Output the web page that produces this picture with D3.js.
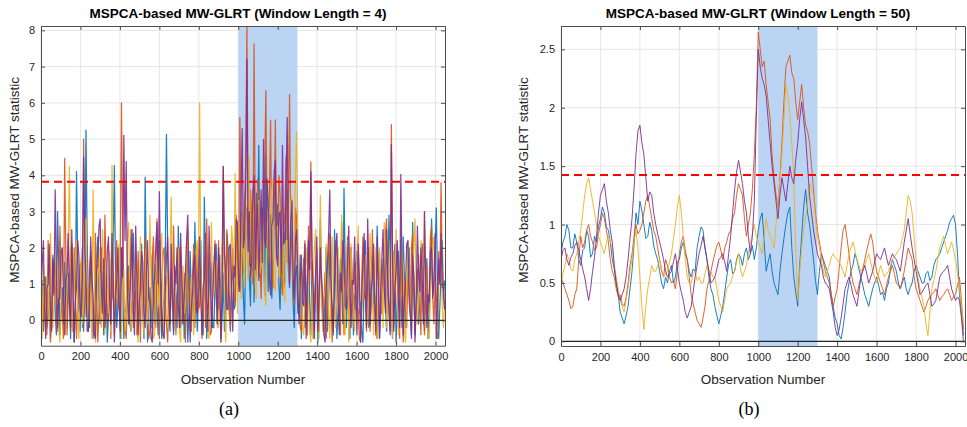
<!DOCTYPE html>
<html><head><meta charset="utf-8">
<script src="https://cdn.jsdelivr.net/npm/d3@7"></script>
<style>
body{margin:0;background:#fff;}
svg{display:block;font-family:"Liberation Sans",Arial,sans-serif;}
</style>
</head><body>
<svg id="c" width="967" height="427"></svg>
<script>
// ---------------- DATA ----------------
const seriesNames = ["Run 1", "Run 2", "Run 3", "Run 4"];
const seriesColors = ["#0072BD", "#D95319", "#EDB120", "#7E2F8E"];
const xTickValues = [0, 200, 400, 600, 800, 1000, 1200, 1400, 1600, 1800, 2000];
const yTicksA = [0, 1, 2, 3, 4, 5, 6, 7, 8];
const yTicksB = [0, 0.5, 1, 1.5, 2, 2.5];
const faultStart = 1000, faultEnd = 1300;
const thresholdA = 3.82, thresholdB = 1.425;
const titleA = "MSPCA-based MW-GLRT (Window Length = 4)";
const titleB = "MSPCA-based MW-GLRT (Window Length = 50)";
const xLabel = "Observation Number";
const yLabel = "MSPCA-based MW-GLRT statistic";
const stepA = 6;   // observation spacing of the sampled values, panel (a)
const stepB = 10;  // observation spacing of the sampled values, panel (b)

// Panel (a): window length 4
const a_blue = [
0.4,1.1,-0.3,0.5,1.2,-0.2,0.1,0.8,-0.5,0.3,1.8,0.9,0.2,-0.4,3.0,1.4,-0.4,0.2,0.9,-0.1,
1.6,0.6,-0.2,1.3,0.6,-0.5,2.1,1.0,-0.6,0.4,4.1,1.7,0.3,-0.3,1.1,2.0,-0.3,0.7,5.25,2.2,
0.5,-0.2,1.9,0.8,-0.5,0.3,0.8,1.6,2.3,0.6,-0.1,0.9,1.3,-0.4,0.0,1.2,-0.6,0.1,1.7,0.5,
0.6,2.0,4.27,1.1,-0.2,0.4,1.0,-0.5,2.0,0.9,-0.5,0.2,0.4,1.4,1.5,-0.1,-0.3,0.6,2.4,1.0,
0.7,-0.3,-0.4,0.8,1.2,2.1,0.2,-0.5,3.95,1.3,-0.6,0.5,0.9,-0.2,1.8,0.7,-0.1,1.5,0.3,-0.4,
2.2,0.9,-0.5,0.3,0.6,1.7,5.13,2.0,0.1,-0.3,1.4,0.6,-0.4,1.1,0.8,-0.2,2.6,1.2,-0.2,0.4,
1.1,-0.5,0.4,1.6,-0.6,0.2,1.9,0.7,0.5,-0.1,2.7,1.1,-0.3,0.6,1.0,2.2,0.2,-0.4,3.4,1.3,
-0.5,0.4,0.7,1.5,1.6,-0.2,-0.2,0.9,2.1,0.5,0.3,1.8,-0.6,0.1,1.3,-0.3,0.6,2.4,2.0,0.8,
-0.3,1.1,1.5,0.3,0.4,2.0,2.5,1.0,0.9,3.0,1.8,0.6,-0.1,2.3,3.1,1.5,1.2,0.4,2.6,3.3,
0.5,1.8,3.5,2.4,4.83,1.2,1.4,3.1,2.2,0.7,4.6,2.5,0.8,1.9,2.9,0.6,1.6,3.4,3.8,1.7,
3.2,1.0,0.3,2.1,2.4,0.9,1.1,3.0,3.6,1.4,0.9,2.6,2.0,0.5,-0.2,1.3,1.5,0.2,0.6,1.8,
-0.5,0.7,1.7,-0.2,0.2,1.2,2.3,0.4,-0.4,1.6,0.8,-0.5,1.4,0.6,-0.6,0.9,2.8,1.1,0.1,-0.3,
1.0,2.0,-0.3,0.5,1.9,0.8,0.4,-0.4,2.5,1.2,-0.5,0.3,0.7,1.7,1.3,-0.1,3.64,1.5,-0.2,0.6,
0.9,-0.5,2.0,1.0,-0.4,0.7,0.3,1.9,1.6,0.2,0.5,-0.3,-0.6,1.1,2.2,0.6,1.1,-0.2,-0.1,1.4,
1.8,0.5,0.2,-0.4,2.6,1.3,-0.5,0.2,0.8,1.7,1.5,0.4,-0.3,1.0,2.9,1.6,0.4,-0.5,1.2,2.1,
-0.6,0.3,1.9,0.9,0.6,-0.2,2.3,1.2,-0.2,0.5,1.0,2.0,0.3,-0.4,2.7,1.0,-0.4,0.6,1.4,-0.1,
0.5,1.6,2.1,0.4,-0.3,0.9,1.7,-0.5,0.2,1.3,2.8,0.7,0.9,2.0,3.1,1.0,-0.5,0.4,1.3,2.2,
0.6,1.1];
const a_orange = [
1.0,0.3,-0.2,1.2,0.5,-0.4,2.2,0.9,-0.6,0.2,0.8,1.6,1.4,-0.1,-0.3,0.7,2.6,1.1,0.2,-0.5,
4.47,1.8,-0.4,0.6,1.1,2.0,0.3,-0.3,2.0,0.8,-0.5,0.4,0.7,1.5,1.6,-0.2,5.0,2.1,0.1,0.9,
-0.3,1.4,1.8,0.5,0.4,-0.4,2.4,1.0,-0.6,0.3,1.2,2.0,0.6,-0.2,2.9,1.3,-0.1,0.5,0.9,-0.5,
1.5,0.6,-0.4,1.1,2.2,0.4,0.3,1.9,6.0,2.4,0.8,-0.3,-0.5,0.7,1.3,0.2,2.5,1.2,-0.2,0.8,
0.6,-0.4,1.9,0.7,-0.6,1.4,0.9,0.1,2.3,1.0,0.1,-0.5,-0.3,0.6,1.7,2.3,0.4,-0.2,2.8,1.1,
-0.5,0.5,1.0,1.9,2.0,0.4,-0.1,-0.6,0.5,1.2,1.4,0.3,2.6,1.0,-0.4,0.6,0.7,2.0,1.8,-0.1,
0.2,1.3,-0.6,0.5,2.4,0.8,0.9,-0.3,1.2,2.1,-0.2,0.7,2.0,0.3,0.4,1.5,-0.5,0.2,1.6,-0.2,
2.8,1.0,0.3,-0.4,-0.3,0.9,1.1,2.2,0.6,-0.1,2.2,0.8,-0.6,1.6,4.25,1.2,0.8,2.5,1.4,0.2,
-0.2,1.1,2.0,0.6,0.5,2.9,1.7,0.8,5.6,3.0,2.4,1.3,3.3,4.4,8.1,2.6,1.5,3.6,2.9,1.0,
7.63,2.8,1.2,3.9,3.4,1.5,0.6,2.5,2.7,4.2,6.34,2.3,1.9,3.5,5.52,1.4,0.9,2.9,5.53,2.0,
2.2,4.0,3.5,1.1,0.7,2.6,2.8,4.5,1.6,3.2,6.23,2.4,2.1,0.9,0.4,3.1,2.8,1.2,0.8,-0.2,
-0.3,0.9,1.5,2.2,0.2,-0.4,2.6,1.0,4.37,1.7,-0.5,0.4,1.0,2.0,0.6,-0.3,2.1,1.3,-0.2,0.5,
1.3,-0.5,0.4,1.8,2.4,0.7,-0.6,0.2,0.9,2.2,1.8,0.5,0.1,-0.4,2.7,1.1,-0.4,0.6,1.2,2.3,
0.5,-0.2,2.0,0.9,-0.1,1.5,1.6,0.3,0.3,-0.5,-0.6,1.2,2.3,0.6,0.8,-0.3,1.4,2.0,-0.3,0.4,
2.5,1.1,0.6,-0.4,-0.5,0.8,1.9,0.2,0.2,1.4,1.1,2.4,2.8,0.9,0.4,-0.3,5.4,1.6,-0.2,0.7,
1.3,2.1,0.7,-0.5,2.2,0.6,-0.6,1.1,0.9,-0.2,1.7,0.5,0.1,2.0,2.4,0.8,-0.3,0.3,1.0,1.8,
0.5,-0.4,2.1,0.9,-0.4,1.3,1.5,0.2,0.8,2.3,2.6,0.6,-0.1,1.2,0.6,-0.5,1.9,1.0,3.8,1.5,
0.7,0.3];
const a_yellow = [
0.3,-0.5,1.5,0.6,-0.4,1.2,0.8,-0.1,2.4,0.9,-0.2,0.5,1.1,1.9,0.5,-0.3,-0.6,0.7,2.0,1.0,
0.2,-0.4,1.3,2.2,4.25,1.1,-0.3,0.4,0.9,1.7,2.2,0.3,-0.5,0.8,1.7,-0.1,0.4,1.4,2.8,0.6,
-0.1,1.2,0.7,-0.5,3.6,1.5,-0.6,0.3,1.2,2.0,0.3,-0.2,2.5,0.9,-0.4,1.6,1.0,0.2,1.9,-0.3,
4.28,1.3,-0.2,0.7,0.6,1.8,2.1,0.4,-0.5,1.0,1.4,-0.3,0.2,2.3,2.7,0.8,-0.3,0.5,0.8,1.6,
1.6,-0.2,-0.6,0.9,2.3,1.2,0.5,-0.4,1.1,2.0,-0.1,0.6,2.9,1.1,0.3,-0.5,-0.4,1.3,1.8,0.4,
0.7,2.1,2.4,0.5,-0.5,1.0,1.2,-0.2,0.1,1.6,3.4,1.2,-0.2,0.6,0.9,2.0,2.0,-0.3,-0.6,0.8,
1.5,0.2,0.4,2.1,2.6,0.7,-0.3,1.2,1.0,-0.4,0.6,1.9,2.2,0.9,6.0,1.4,-0.1,0.5,1.3,2.4,
0.5,-0.4,-0.5,1.1,2.7,0.6,0.8,1.7,1.6,-0.2,-0.2,0.9,0.3,2.0,2.4,0.7,-0.6,0.4,1.1,1.8,
0.7,2.6,2.1,0.9,4.05,1.5,0.2,2.7,1.8,0.6,3.0,1.9,0.9,3.2,2.3,1.1,4.5,2.0,1.2,3.4,
2.8,0.9,0.6,2.2,3.3,1.3,1.5,2.9,2.0,0.7,0.4,2.4,3.1,1.6,1.7,3.6,3.9,1.0,0.8,2.5,
2.6,1.2,1.3,3.1,3.0,0.8,0.5,2.2,2.2,1.5,1.0,3.3,3.4,1.1,1.9,4.1,5.2,2.4,0.3,1.0,
1.4,-0.2,-0.4,0.9,2.0,1.5,0.6,-0.3,-0.6,0.7,1.2,2.0,2.5,0.4,0.1,-0.5,3.45,1.2,-0.3,0.6,
0.8,2.1,1.7,0.3,-0.5,1.0,2.3,0.6,0.4,-0.2,1.1,2.0,-0.2,0.5,2.9,1.3,0.6,-0.4,1.4,2.2,
-0.6,0.4,2.1,1.0,0.3,-0.3,1.0,1.8,2.6,0.7,-0.3,0.2,0.7,1.5,1.8,-0.1,-0.1,0.9,2.4,1.2,
0.5,-0.4,1.3,2.0,-0.5,0.6,2.0,1.1,0.9,-0.2,2.7,1.4,-0.2,0.5,1.2,2.2,0.4,-0.5,1.9,0.8,
2.5,1.0,-0.4,0.3,0.8,1.9,1.5,-0.3,-0.6,0.7,2.2,1.3,0.6,-0.1,1.1,2.0,2.8,0.9,-0.1,0.5,
0.9,2.2,1.6,0.2,3.0,1.2,0.2,-0.4,-0.5,0.8,1.4,2.1,2.3,0.6,0.5,-0.3,1.0,1.7,2.1,0.4,
-0.2,0.5];
const a_purple = [
0.8,1.5,2.2,0.4,-0.5,0.9,1.0,2.1,0.3,-0.3,1.7,0.7,3.6,1.4,-0.2,0.6,0.6,1.9,2.0,0.8,
-0.4,1.1,1.3,2.4,0.5,-0.2,2.5,1.0,-0.6,0.5,0.9,2.2,1.8,0.3,0.1,1.5,4.5,2.0,1.2,-0.3,
-0.3,0.8,2.3,1.2,0.7,-0.4,-0.5,1.4,1.5,2.6,2.8,0.9,0.2,1.7,-0.2,0.5,1.9,2.3,0.6,-0.1,
2.4,1.3,-0.6,0.6,1.1,2.0,0.4,-0.3,2.0,1.2,5.1,2.2,4.38,1.0,-0.1,0.7,1.4,2.5,0.3,-0.4,
2.6,1.1,-0.4,0.5,0.8,1.9,1.6,0.2,-0.2,1.3,2.2,0.6,0.5,-0.5,-0.6,0.9,1.2,2.1,2.7,1.0,
3.55,1.4,0.1,-0.4,-0.5,0.8,1.7,2.3,0.6,-0.1,2.1,0.9,-0.3,1.5,1.0,2.0,0.4,-0.2,2.4,1.1,
-0.1,0.7,1.3,2.2,2.9,0.9,-0.6,0.4,0.7,1.6,1.8,0.3,0.2,1.2,2.3,0.6,-0.4,0.9,1.1,2.4,
0.5,-0.3,2.6,1.2,-0.2,0.6,1.5,2.1,0.9,-0.1,2.0,1.0,-0.5,0.7,4.25,1.8,1.4,0.3,0.3,2.0,
2.1,0.9,-0.3,1.5,1.2,2.8,2.7,1.0,0.8,3.4,5.29,2.0,2.3,3.8,7.2,1.9,3.0,1.2,1.6,3.5,
4.0,1.4,2.5,3.2,1.1,2.4,3.6,1.6,4.99,2.2,2.0,3.9,3.2,1.1,0.7,2.6,2.8,4.1,4.4,1.8,
1.5,2.9,3.0,1.3,4.83,2.1,2.2,3.7,5.6,1.9,1.0,2.7,3.3,1.2,0.6,2.2,2.5,0.8,-0.1,1.0,
1.8,0.5,0.4,2.1,-0.5,0.9,2.2,1.4,4.1,1.6,0.9,-0.3,1.3,2.3,-0.3,0.6,2.0,1.1,0.6,-0.4,
-0.6,0.9,1.5,2.4,3.6,1.2,0.2,-0.3,1.1,2.0,2.4,0.7,-0.4,1.3,0.8,2.2,1.9,0.4,0.3,1.6,
2.6,0.9,-0.2,1.1,1.0,2.3,0.5,-0.4,2.1,1.2,-0.6,0.6,1.6,2.4,0.7,-0.2,2.8,1.3,-0.1,0.8,
1.2,2.1,0.4,-0.3,2.3,1.0,-0.5,0.7,1.7,2.5,0.9,0.2,2.5,1.2,0.2,-0.4,4.85,1.9,-0.3,0.9,
1.4,2.2,0.6,-0.2,4.03,1.5,-0.4,0.6,1.0,2.1,2.2,0.8,0.3,-0.5,1.8,1.2,-0.6,0.5,2.6,1.4,
0.8,2.0,1.3,-0.1,3.0,1.1,-0.2,0.7,0.5,1.9,2.0,0.6,1.1,2.4,-0.5,0.4,1.7,1.0,2.4,0.9,
0.9,0.3];

// Panel (b): window length 50
const b_blue = [
0.75,0.85,0.9,1.0,0.95,0.8,0.8,0.92,0.85,0.7,0.65,0.78,0.8,0.95,0.9,0.72,0.75,0.9,0.85,0.98,
1.05,1.15,1.1,0.98,0.95,0.85,0.7,0.62,0.5,0.4,0.25,0.2,0.15,0.22,0.3,0.45,0.6,0.82,1.1,1.0,
1.2,1.12,1.0,0.88,0.9,1.02,0.95,0.82,0.75,0.7,0.6,0.5,0.45,0.55,0.5,0.6,0.65,0.5,0.55,0.68,
0.7,0.8,0.85,0.74,0.7,0.6,0.55,0.62,0.6,0.8,0.9,0.98,0.95,0.8,0.7,0.55,0.45,0.4,0.3,0.22,
0.15,0.22,0.3,0.42,0.55,0.66,0.7,0.58,0.6,0.7,0.75,0.72,0.65,0.75,0.8,0.7,0.75,0.82,0.7,0.8,
0.95,1.05,1.1,0.85,0.6,0.68,0.75,0.6,0.5,0.45,0.4,0.6,0.75,0.88,1.0,1.1,1.15,0.8,0.55,0.42,
0.3,0.65,0.9,1.15,1.3,1.1,1.0,0.85,0.7,0.52,0.4,0.6,0.75,0.7,0.65,0.6,0.55,0.4,0.3,0.2,
0.15,0.05,0.02,0.12,0.25,0.4,0.5,0.6,0.65,0.75,0.7,0.62,0.55,0.48,0.4,0.35,0.3,0.38,0.45,0.5,
0.55,0.48,0.4,0.42,0.35,0.45,0.5,0.62,0.7,0.65,0.6,0.5,0.45,0.5,0.55,0.45,0.4,0.46,0.5,0.6,
0.65,0.6,0.55,0.5,0.5,0.58,0.6,0.52,0.55,0.65,0.7,0.72,0.75,0.8,0.85,0.9,0.95,1.02,1.05,1.08,
1.0,0.75,0.4,0.25,0.05];
const b_orange = [
0.55,0.5,0.45,0.4,0.35,0.28,0.3,0.4,0.45,0.7,0.9,0.8,0.85,0.95,1.0,0.9,0.85,0.78,0.8,0.92,
1.0,1.1,1.05,0.95,0.85,0.7,0.6,0.55,0.45,0.38,0.4,0.32,0.3,0.38,0.5,0.65,0.75,0.9,1.0,0.92,
0.95,1.0,1.1,1.2,1.25,1.15,1.05,0.95,0.9,0.8,0.7,0.6,0.55,0.7,0.65,0.55,0.5,0.52,0.45,0.6,
0.75,0.85,0.9,0.78,0.7,0.55,0.4,0.32,0.25,0.18,0.15,0.12,0.2,0.3,0.45,0.52,0.6,0.68,0.75,0.82,
0.85,0.78,0.7,0.8,0.85,0.92,0.95,1.05,1.1,1.25,1.35,1.3,1.25,1.05,0.9,1.0,1.1,1.3,1.6,2.0,
2.65,2.5,2.35,2.4,2.2,2.05,1.9,1.6,1.4,1.25,1.15,1.4,1.7,2.05,2.35,2.4,2.45,2.3,2.25,2.05,
1.9,2.05,2.2,2.0,1.85,1.8,1.7,1.5,1.3,1.1,0.95,0.85,0.75,0.68,0.6,0.55,0.5,0.4,0.3,0.38,
0.45,0.62,0.8,0.95,1.0,0.88,0.75,0.6,0.5,0.45,0.4,0.48,0.55,0.62,0.7,0.78,0.85,0.92,0.85,0.7,
0.6,0.55,0.5,0.45,0.4,0.48,0.55,0.6,0.65,0.58,0.5,0.48,0.45,0.52,0.6,0.7,0.8,0.75,0.7,0.55,
0.45,0.4,0.35,0.3,0.25,0.3,0.35,0.38,0.4,0.42,0.45,0.4,0.35,0.38,0.4,0.43,0.45,0.4,0.35,0.38,
0.4,0.48,0.55,0.35,0.1];
const b_yellow = [
0.5,0.58,0.65,0.75,0.7,0.62,0.6,0.7,0.75,0.85,0.95,1.1,1.25,1.35,1.4,1.3,1.2,1.1,1.0,0.9,
0.85,0.8,0.75,0.85,0.9,0.85,0.8,0.65,0.55,0.45,0.35,0.3,0.25,0.35,0.45,0.6,0.7,0.85,0.95,0.8,
0.55,0.3,0.1,0.3,0.45,0.55,0.65,0.6,0.6,0.65,0.7,0.62,0.55,0.58,0.6,0.68,0.75,0.88,1.0,1.15,
1.25,1.1,0.9,0.7,0.55,0.5,0.5,0.58,0.6,0.52,0.55,0.5,0.5,0.58,0.65,0.6,0.6,0.55,0.55,0.45,
0.35,0.3,0.25,0.35,0.45,0.48,0.5,0.56,0.6,0.68,0.75,0.62,0.55,0.6,0.65,0.75,0.85,0.92,1.0,0.9,
0.85,0.8,0.75,0.9,1.05,0.95,0.9,0.85,0.8,1.0,1.2,1.4,1.6,1.9,2.2,2.1,1.95,1.7,1.4,0.8,
0.35,0.6,0.8,0.95,1.05,1.2,1.35,1.3,1.25,1.05,0.9,0.8,0.7,0.6,0.55,0.6,0.65,0.72,0.75,0.72,
0.7,0.68,0.65,0.6,0.55,0.65,0.75,0.8,0.85,0.78,0.7,0.65,0.6,0.62,0.65,0.7,0.75,0.68,0.6,0.55,
0.5,0.58,0.65,0.6,0.55,0.58,0.6,0.65,0.7,0.72,0.75,0.78,0.8,0.88,0.95,1.1,1.25,1.2,1.1,0.9,
0.7,0.55,0.45,0.38,0.3,0.15,0.05,0.25,0.45,0.52,0.6,0.7,0.8,0.85,0.9,0.82,0.75,0.8,0.85,0.78,
0.7,0.58,0.45,0.3,0.15];
const b_purple = [
0.7,0.78,0.8,0.7,0.65,0.72,0.75,0.82,0.85,0.78,0.7,0.62,0.55,0.45,0.35,0.45,0.6,0.72,0.9,1.1,
1.25,1.3,1.35,1.2,1.1,0.95,0.85,0.65,0.5,0.4,0.35,0.4,0.45,0.55,0.7,0.88,1.05,1.3,1.6,1.8,
1.85,1.7,1.6,1.4,1.2,1.28,1.25,1.1,1.0,0.92,0.85,0.78,0.7,0.6,0.55,0.58,0.6,0.68,0.75,0.62,
0.5,0.42,0.35,0.25,0.2,0.25,0.3,0.42,0.55,0.65,0.75,0.82,0.9,0.8,0.7,0.6,0.5,0.52,0.55,0.62,
0.7,0.72,0.75,0.68,0.6,0.75,0.9,1.1,1.3,1.45,1.55,1.45,1.35,1.2,1.1,0.9,0.75,0.9,1.2,1.9,
2.5,2.35,2.25,2.2,2.1,1.9,1.7,1.5,1.35,1.2,1.05,1.25,1.4,1.3,1.2,1.35,1.5,1.4,1.35,1.55,
1.7,1.9,2.05,1.9,1.75,1.5,1.25,1.1,0.95,0.85,0.75,0.7,0.65,0.55,0.5,0.48,0.45,0.35,0.25,0.12,
0.05,0.1,0.2,0.32,0.45,0.5,0.55,0.48,0.4,0.35,0.3,0.42,0.55,0.6,0.65,0.58,0.5,0.55,0.6,0.68,
0.75,0.72,0.7,0.75,0.8,0.72,0.65,0.7,0.75,0.72,0.7,0.65,0.6,0.72,0.85,0.95,1.05,0.92,0.8,0.7,
0.6,0.5,0.4,0.42,0.45,0.48,0.5,0.4,0.3,0.32,0.35,0.45,0.55,0.58,0.6,0.62,0.65,0.55,0.45,0.4,
0.35,0.38,0.35,0.2,0.0];

// ---------------- DRAW ----------------
const svg = d3.select("#c");
const axisColor = "#4d4d4d";
const textColor = "#262626";

const panels = [
  {id:"a", left:41, right:445, top:26, bottom:345.7, yDomain:[-0.7, 8.12], yTicks:yTicksA,
   yFmt:d3.format("d"), thr:thresholdA, title:titleA, tag:"(a)", lw:1.25,
   step:stepA, data:[a_blue, a_orange, a_yellow, a_purple], ylabX:19},
  {id:"b", left:561, right:965, top:26, bottom:346, yDomain:[-0.04, 2.7], yTicks:yTicksB,
   yFmt:d3.format("~g"), thr:thresholdB, title:titleB, tag:"(b)", lw:1,
   step:stepB, data:[b_blue, b_orange, b_yellow, b_purple], ylabX:528}
];

panels.forEach(p => {
  const x = d3.scaleLinear().domain([0, 2048]).range([p.left, p.right]);
  const y = d3.scaleLinear().domain(p.yDomain).range([p.bottom, p.top]);
  const g = svg.append("g");

  // grid
  g.append("g").selectAll("line").data(xTickValues).join("line")
    .attr("x1", d => x(d)).attr("x2", d => x(d))
    .attr("y1", p.top).attr("y2", p.bottom)
    .attr("stroke", "#e6e6e6").attr("stroke-width", 1);
  g.append("g").selectAll("line").data(p.yTicks).join("line")
    .attr("x1", p.left).attr("x2", p.right)
    .attr("y1", d => y(d)).attr("y2", d => y(d))
    .attr("stroke", "#e6e6e6").attr("stroke-width", 1);

  // fault region
  g.append("rect")
    .attr("x", x(faultStart)).attr("width", x(faultEnd) - x(faultStart))
    .attr("y", p.top).attr("height", p.bottom - p.top)
    .attr("fill", "#bcd4f3");

  // clip
  const clipId = "clip-" + p.id;
  svg.append("clipPath").attr("id", clipId).append("rect")
    .attr("x", p.left).attr("y", p.top)
    .attr("width", p.right - p.left).attr("height", p.bottom - p.top);

  const line = d3.line().x((d, i) => x(i * p.step)).y(d => y(d));
  const lg = g.append("g").attr("clip-path", `url(#${clipId})`);
  p.data.forEach((arr, k) => {
    lg.append("path").datum(arr)
      .attr("d", line)
      .attr("fill", "none")
      .attr("stroke", seriesColors[k])
      .attr("stroke-width", p.lw)
      .attr("stroke-opacity", 0.9)
      .attr("stroke-linejoin", "round");
  });

  // zero line
  lg.append("line")
    .attr("x1", p.left).attr("x2", p.right)
    .attr("y1", y(0)).attr("y2", y(0))
    .attr("stroke", "#262626").attr("stroke-width", 1.2);

  // threshold
  lg.append("line")
    .attr("x1", p.left).attr("x2", p.right)
    .attr("y1", y(p.thr)).attr("y2", y(p.thr))
    .attr("stroke", "#ff0000").attr("stroke-width", 2)
    .attr("stroke-dasharray", "8,5");

  // axes (inward ticks, box)
  const styleAxis = sel => {
    sel.selectAll("path.domain").attr("stroke", axisColor);
    sel.selectAll(".tick line").attr("stroke", axisColor);
    sel.selectAll(".tick text").attr("fill", textColor).attr("font-size", 11)
      .attr("font-family", '"Liberation Sans", Arial, sans-serif');
  };
  g.append("g").attr("transform", `translate(0,${p.bottom})`)
    .call(d3.axisBottom(x).tickValues(xTickValues).tickFormat(d3.format("d"))
      .tickSizeInner(-4).tickSizeOuter(0).tickPadding(7))
    .call(styleAxis);
  g.append("g").attr("transform", `translate(0,${p.top})`)
    .call(d3.axisTop(x).tickValues(xTickValues).tickSizeInner(-4).tickSizeOuter(0).tickFormat(""))
    .call(styleAxis);
  g.append("g").attr("transform", `translate(${p.left},0)`)
    .call(d3.axisLeft(y).tickValues(p.yTicks).tickFormat(p.yFmt).tickSizeInner(-4).tickSizeOuter(0).tickPadding(6))
    .call(styleAxis);
  g.append("g").attr("transform", `translate(${p.right},0)`)
    .call(d3.axisRight(y).tickValues(p.yTicks).tickSizeInner(-4).tickSizeOuter(0).tickFormat(""))
    .call(styleAxis);

  // title
  svg.append("text")
    .attr("x", (p.left + p.right) / 2 - 5).attr("y", 18)
    .attr("text-anchor", "middle").attr("font-weight", "bold")
    .attr("font-size", 13.5).attr("fill", "#000")
    .text(p.title);

  // x label
  svg.append("text")
    .attr("x", (p.left + p.right) / 2).attr("y", 384)
    .attr("text-anchor", "middle").attr("font-size", 13.5).attr("fill", textColor)
    .text(xLabel);

  // y label
  svg.append("text")
    .attr("transform", `translate(${p.ylabX},${(p.top + p.bottom) / 2 - 6}) rotate(-90)`)
    .attr("text-anchor", "middle").attr("font-size", 13.5).attr("fill", textColor)
    .text(yLabel);

  // panel tag
  svg.append("text")
    .attr("x", (p.left + p.right) / 2 - 14).attr("y", 415)
    .attr("text-anchor", "middle").attr("font-size", 18)
    .attr("font-family", '"Liberation Serif", "Times New Roman", serif')
    .attr("fill", "#000")
    .text(p.tag);
});
</script>
</body></html>
